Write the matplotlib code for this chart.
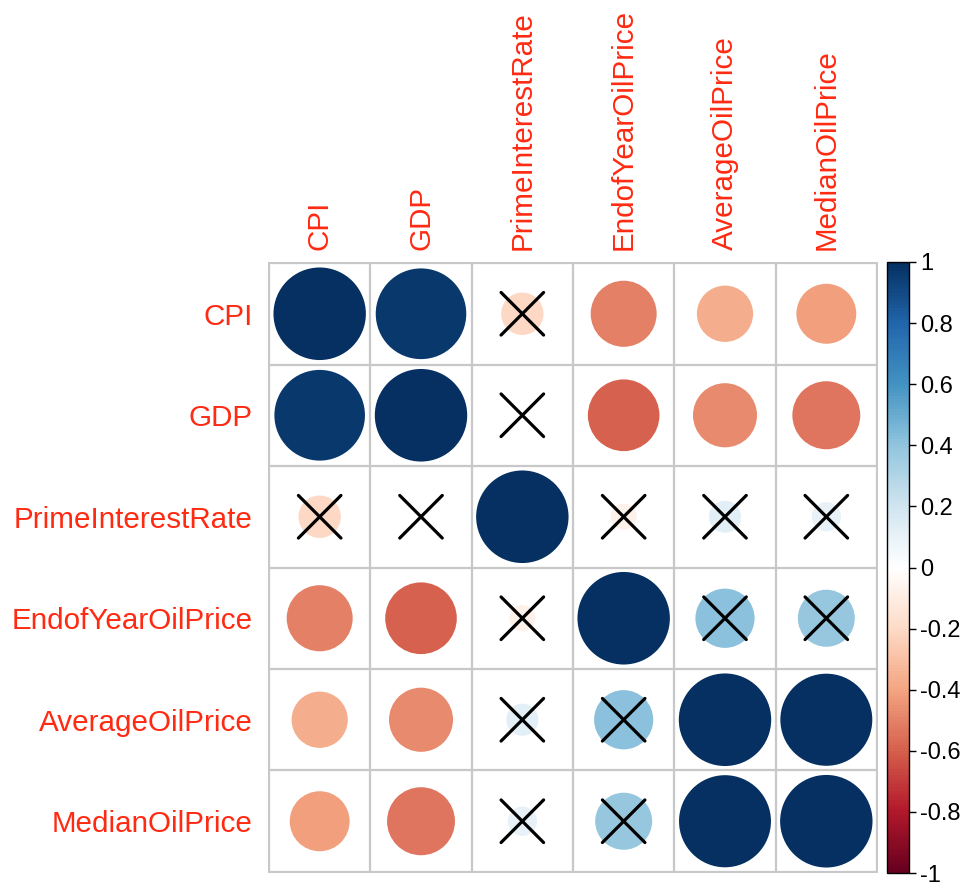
import numpy as np
import matplotlib
matplotlib.use("Agg")
import matplotlib.pyplot as plt
from matplotlib.colors import LinearSegmentedColormap, Normalize
from matplotlib.patches import Circle
from matplotlib.cm import ScalarMappable

plt.rcParams['font.family'] = ['Liberation Sans', 'DejaVu Sans']

variables = ["CPI", "GDP", "PrimeInterestRate", "EndofYearOilPrice",
             "AverageOilPrice", "MedianOilPrice"]

# correlation matrix, row by row
corr = np.array([
    [1.00, 0.96, -0.21, -0.51, -0.37, -0.42],
    [0.96, 1.00, -0.01, -0.60, -0.48, -0.54],
    [-0.21, -0.01, 1.00, -0.08, 0.12, 0.10],
    [-0.51, -0.60, -0.08, 1.00, 0.41, 0.38],
    [-0.37, -0.48, 0.12, 0.41, 1.00, 0.99],
    [-0.42, -0.54, 0.10, 0.38, 0.99, 1.00],
])

# 1 = not significant (crossed out)
insignificant = np.array([
    [0, 0, 1, 0, 0, 0],
    [0, 0, 1, 0, 0, 0],
    [1, 1, 0, 1, 1, 1],
    [0, 0, 1, 0, 1, 1],
    [0, 0, 1, 1, 0, 0],
    [0, 0, 1, 1, 0, 0],
])

cbar_ticks = [-1, -0.8, -0.6, -0.4, -0.2, 0, 0.2, 0.4, 0.6, 0.8, 1]

rdbu = ["#67001F", "#B2182B", "#D6604D", "#F4A582", "#FDDBC7", "#FFFFFF",
        "#D1E5F0", "#92C5DE", "#4393C3", "#2166AC", "#053061"]
cmap = LinearSegmentedColormap.from_list("col2", rdbu, N=200)
norm = Normalize(-1, 1)
label_col = "#FF2A12"

fig = plt.figure(figsize=(9.6, 8.86), dpi=100)
ax = fig.add_axes([268 / 960, 13 / 886, 610 / 960, 611 / 886])
n = len(variables)

for i in range(n):
    for j in range(n):
        r = corr[i, j]
        ax.add_patch(Circle((j + 0.5, i + 0.5), 0.456 * np.sqrt(abs(r)),
                            facecolor=cmap(norm(r)), edgecolor="none", zorder=2))
        if insignificant[i, j]:
            d = 0.21
            ax.plot([j + 0.5 - d, j + 0.5 + d], [i + 0.5 - d, i + 0.5 + d],
                    color="black", lw=2.3, solid_capstyle="round", zorder=3)
            ax.plot([j + 0.5 - d, j + 0.5 + d], [i + 0.5 + d, i + 0.5 - d],
                    color="black", lw=2.3, solid_capstyle="round", zorder=3)

for k in range(n + 1):
    ax.plot([k, k], [0, n], color="#C8C8C8", lw=1.6, zorder=1)
    ax.plot([0, n], [k, k], color="#C8C8C8", lw=1.6, zorder=1)

ax.set_xlim(-0.01, n + 0.01)
ax.set_ylim(n + 0.01, -0.01)
for s in ax.spines.values():
    s.set_visible(False)

ax.xaxis.tick_top()
ax.set_xticks(np.arange(n) + 0.5)
ax.set_xticklabels(variables, rotation=90, color=label_col, fontsize=21.3)
ax.set_yticks(np.arange(n) + 0.5)
ax.set_yticklabels(variables, color=label_col, fontsize=21.3)
ax.tick_params(axis="x", length=0, pad=9)
ax.tick_params(axis="y", length=0, pad=11)

# color legend
cax = fig.add_axes([887 / 960, 13 / 886, 22 / 960, 611 / 886])
cb = fig.colorbar(ScalarMappable(norm=norm, cmap=cmap), cax=cax, ticks=cbar_ticks)
cb.ax.set_yticklabels(["%g" % t for t in cbar_ticks])
cb.ax.tick_params(labelsize=17, length=5, width=1, direction="out", pad=3)
cb.outline.set_linewidth(1)

fig.savefig("out.png", dpi=100, facecolor="white")
